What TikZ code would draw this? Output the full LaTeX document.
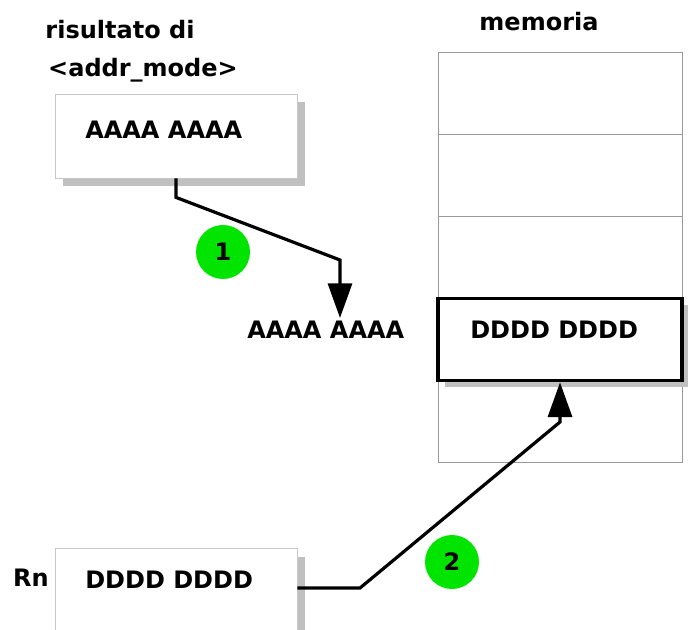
\documentclass[tikz,border=0pt]{standalone}
\usepackage{fontspec}
\setmainfont{DejaVu Sans}
\usepackage{tikz}
\usetikzlibrary{arrows.meta, shadows, positioning}
\definecolor{badgegreen}{HTML}{00E400}
\definecolor{shadowgray}{HTML}{C0C0C0}

\begin{document}
\begin{tikzpicture}[x=0.75pt, y=-0.75pt,
  txt/.style={font=\fontsize{18}{21}\selectfont\bfseries, inner sep=0pt},
  regbox/.style={draw=black!22, fill=white, line width=0.6pt, minimum width=181.5pt,
    drop shadow={shadow xshift=6pt, shadow yshift=-6pt, fill=shadowgray, opacity=1}},
  cell/.style={draw=black!40, line width=0.6pt, minimum width=183pt, minimum height=61.6pt},
  selcell/.style={cell, draw=black, fill=white, line width=2.6pt,
    drop shadow={shadow xshift=5pt, shadow yshift=-5pt, fill=shadowgray, opacity=1}},
  flow/.style={line width=2.4pt, -{Triangle[length=26pt, width=18pt]}},
  badge/.style={circle, fill=badgegreen, minimum size=40.5pt, inner sep=0pt, txt}]
\useasboundingbox (0,0) rectangle (688,630);

% labels
\node[txt] (title1) at (120,30) {risultato di};
\node[txt] (title2) at (143,70) {<addr\_mode>};
\node[txt] (memtitle) at (539,22) {memoria};
\node[txt] (rn) at (31,578) {Rn};

% registers
\node[regbox, minimum height=63pt] (addrbox) at (176,136) {};
\node[txt, anchor=west] (addrtxt) at (85,130) {AAAA AAAA};
\node[regbox, minimum height=83pt] (regbox) at (176,604) {};
\node[txt, anchor=west] (regtxt) at (85,580) {DDDD DDDD};

% memory
\foreach \i in {0,...,4}
  \node[cell] (m\i) at (560,93+82.2*\i) {};
\node[selcell] (mem) at (m3) {};
\node[txt, anchor=west] (memtxt) at (470,330) {DDDD DDDD};

\node[txt, anchor=west] (addrval) at (247,330) {AAAA AAAA};
\coordinate (tip1) at (340,318);

% steps
\draw[flow] (addrbox.south) -- ++(0,19) -- (340,260) -- (tip1);
\draw[flow] (regbox.east |- 0,588) -- (360,588) -- (560,422) -- (mem.south);

\node[badge] (b1) at (223,252) {1};
\node[badge] (b2) at (452,562) {2};
\end{tikzpicture}
\end{document}
